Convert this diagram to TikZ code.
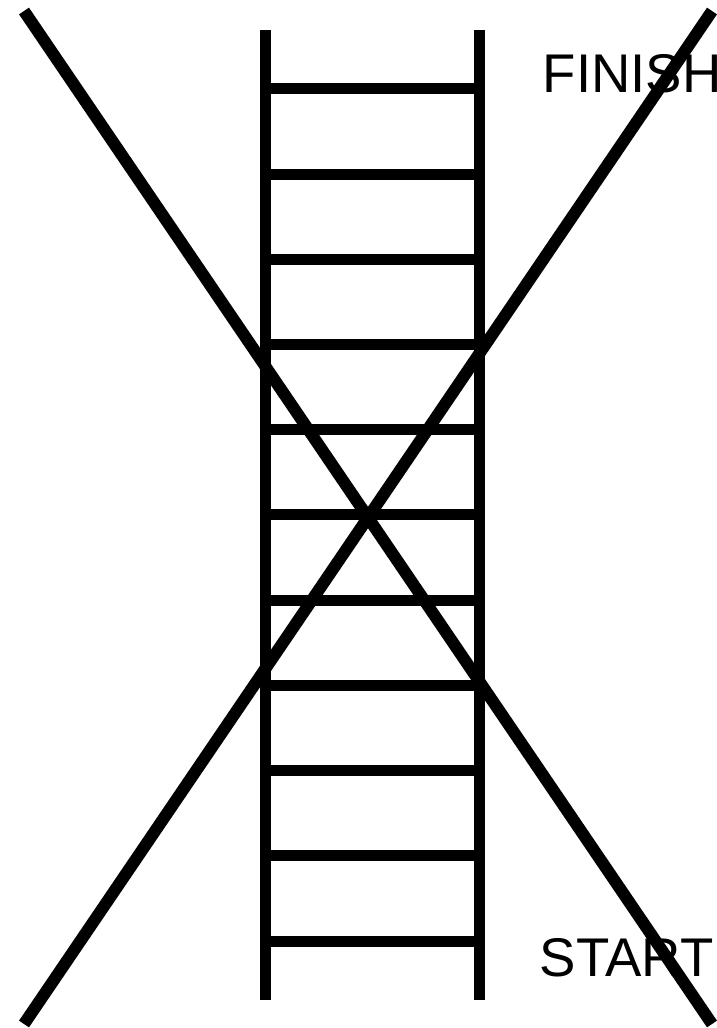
\documentclass[tikz,border=0pt]{standalone}
\usepackage{fontspec}
\setmainfont{Liberation Sans}
\usepackage{tikz}
\usetikzlibrary{calc}
\tikzset{
  every picture/.style={x=1pt, y=-1pt},
  rail/.style={draw=black, line width=11pt, line cap=butt},
  rung/.style={draw=black, line width=11pt, line cap=butt},
  cross/.style={draw=black, line width=12pt, line cap=butt},
  label/.style={font=\fontsize{54.5}{60}\selectfont, anchor=base west, inner sep=0pt},
}

\begin{document}
\begin{tikzpicture}
  \useasboundingbox (0,0) rectangle (717,1028);
  % labels
  \node[label] (finish) at (542.5,92) {FINISH};
  \node[label] (start) at (539.5,976) {START};
  % rails
  \coordinate (lt) at (265,30);
  \coordinate (lb) at (265,1000);
  \coordinate (rt) at (479,30);
  \coordinate (rb) at (479,1000);
  \draw[rail] (lt) -- (lb);
  \draw[rail] (rt) -- (rb);
  % rungs
  \foreach \i in {0,...,10} {
    \coordinate (a\i) at ($(lt)!{(59+85.2*\i)/970}!(lb)$);
    \coordinate (b\i) at ($(rt)!{(59+85.2*\i)/970}!(rb)$);
    \draw[rung] (a\i) -- (b\i);
  }
  % crossing lines
  \coordinate (tl) at (24,11);
  \coordinate (br) at (712,1024);
  \coordinate (bl) at (24,1024);
  \coordinate (tr) at (712,11);
  \draw[cross] (tl) -- (br);
  \draw[cross] (bl) -- (tr);
\end{tikzpicture}
\end{document}
